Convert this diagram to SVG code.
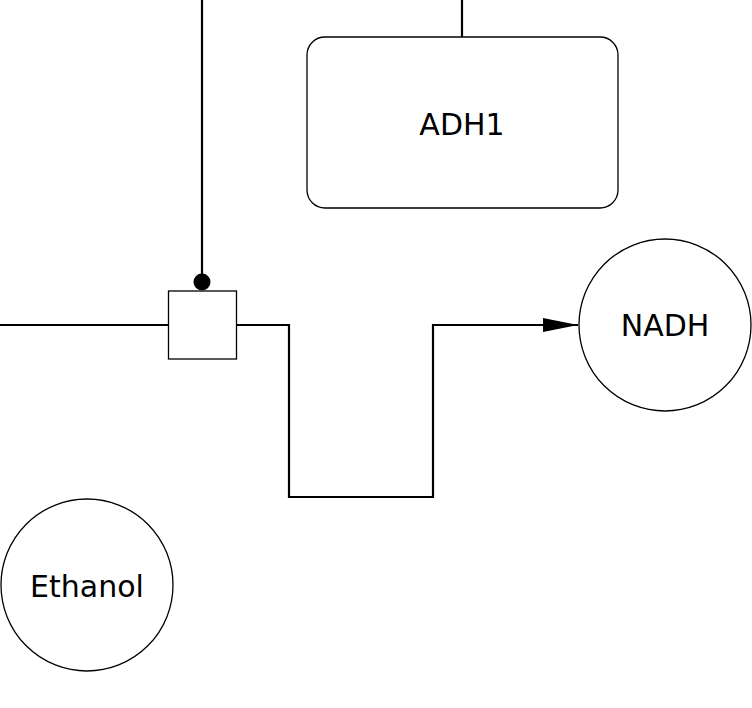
<svg xmlns="http://www.w3.org/2000/svg" width="752" height="708" viewBox="0 0 752 708">
<style>
.node{fill:#fff;stroke:#000;stroke-width:1.3}
.edge{fill:none;stroke:#000;stroke-width:2.2}
.lbl{font-family:"DejaVu Sans",sans-serif;font-size:30px;text-anchor:middle;fill:#000}
</style>
<defs>
<marker id="arrow" markerWidth="36" markerHeight="16" refX="35" refY="8" orient="auto" markerUnits="userSpaceOnUse">
<path d="M0,1 L35,8 L0,15 Z" fill="#000"/>
</marker>
</defs>
<rect width="752" height="708" fill="#fff"/>
<g id="connectors">
<line class="edge" x1="202" y1="0" x2="202" y2="276"/>
<circle cx="202" cy="282" r="8.5" fill="#000"/>
<line class="edge" x1="462" y1="0" x2="462" y2="37"/>
<line class="edge" x1="0" y1="325" x2="168" y2="325"/>
<polyline class="edge" points="237,325 289,325 289,497 433,497 433,325 578,325" marker-end="url(#arrow)"/>
</g>
<g id="process">
<rect class="node" x="168.5" y="291" width="68" height="68"/>
</g>
<g id="ADH1">
<rect class="node" x="307" y="37" width="311" height="171" rx="18"/>
<text class="lbl" x="462" y="135">ADH1</text>
</g>
<g id="NADH">
<circle class="node" cx="665" cy="325" r="86"/>
<text class="lbl" x="665" y="336">NADH</text>
</g>
<g id="Ethanol">
<circle class="node" cx="87" cy="585" r="86"/>
<text class="lbl" x="87" y="597">Ethanol</text>
</g>
</svg>
